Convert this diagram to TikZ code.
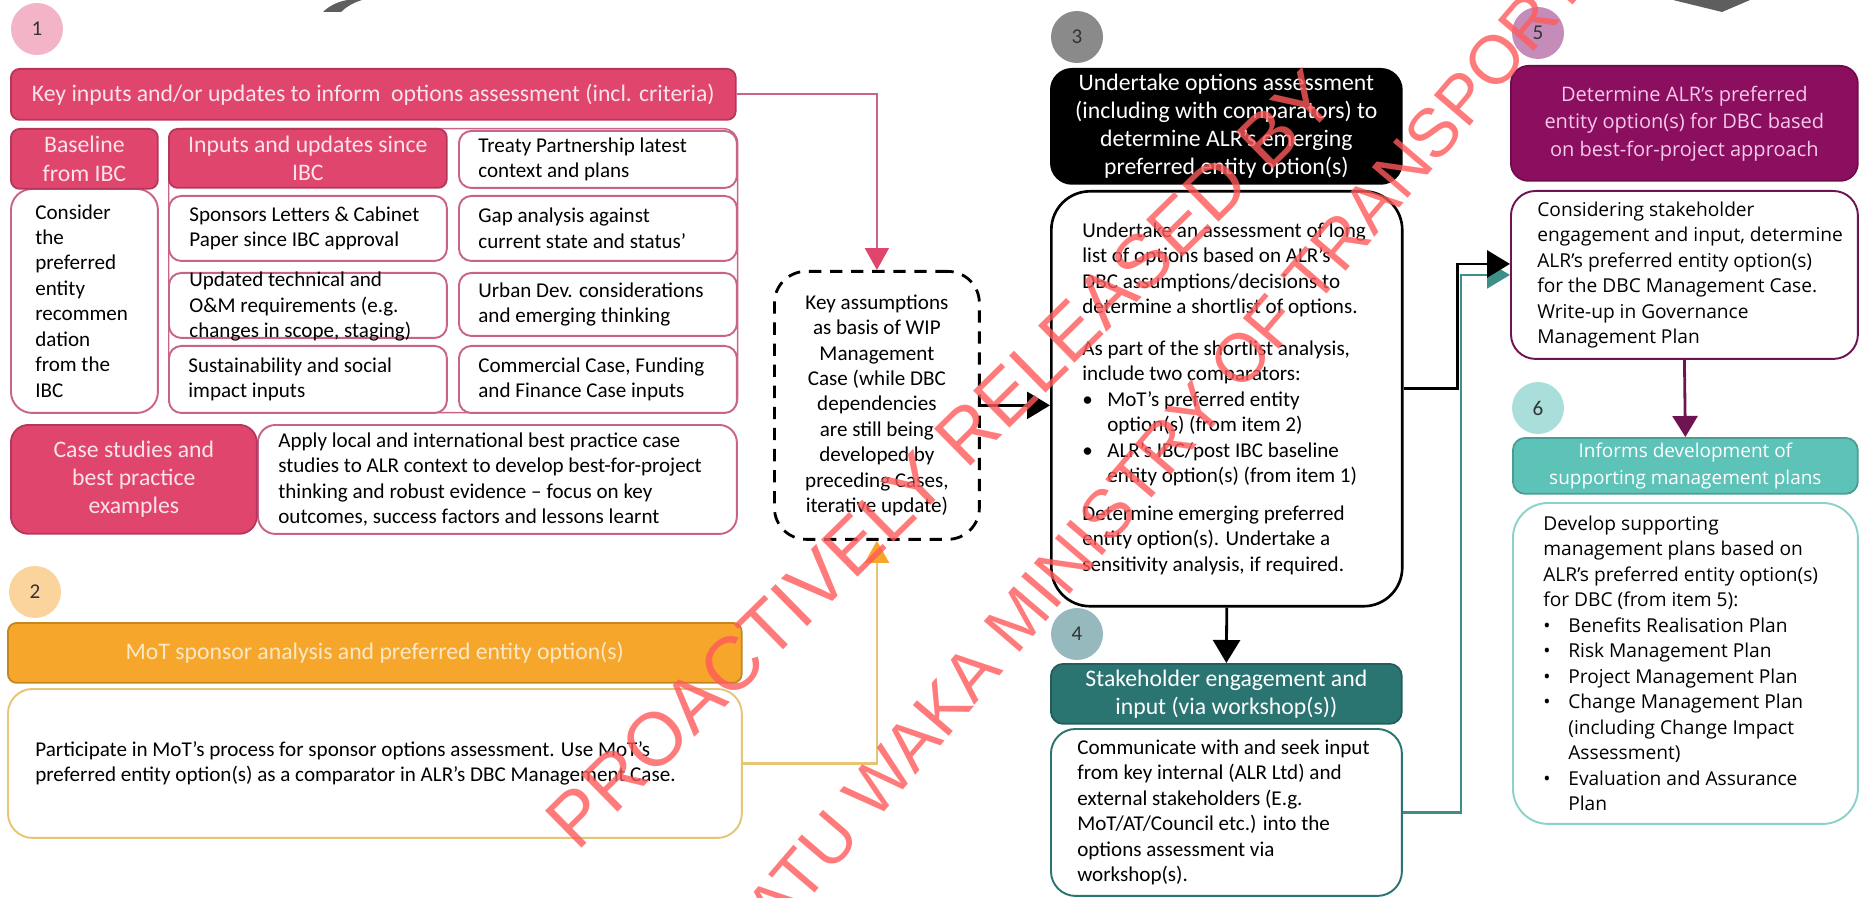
\documentclass[tikz,border=0pt]{standalone}
\usepackage{fontspec}
\setmainfont{Carlito}
\newfontfamily\hdrfamily{Carlito}
\newfontfamily\segfamily{Open Sans}
\newfontfamily\wmfamily{Liberation Sans}
\usetikzlibrary{arrows.meta, positioning}
\definecolor{cpink}{HTML}{E0456E}
\definecolor{cpinkln}{HTML}{C8648A}
\definecolor{cpinklt}{HTML}{F2B4C6}
\definecolor{cpinktx}{HTML}{FBE3EA}
\definecolor{corange}{HTML}{F6A72B}
\definecolor{corangeln}{HTML}{E6C674}
\definecolor{corangelt}{HTML}{FAD49C}
\definecolor{corangetx}{HTML}{FCE8C4}
\definecolor{cgreyc}{HTML}{8A8A8A}
\definecolor{cteal}{HTML}{2A7472}
\definecolor{ctealln}{HTML}{3E8E8A}
\definecolor{ctealc}{HTML}{96B9BE}
\definecolor{cplum}{HTML}{8C0F5F}
\definecolor{cplumln}{HTML}{6E1452}
\definecolor{cplumc}{HTML}{C58CB9}
\definecolor{cplumtx}{HTML}{F4C8EC}
\definecolor{caqua}{HTML}{5DC3B9}
\definecolor{caqualn}{HTML}{8DD2CA}
\definecolor{caquac}{HTML}{A9DEDA}
\definecolor{cwm}{HTML}{FF5A5A}
\definecolor{cgreyd}{HTML}{5E5E5E}
\newcommand\bodyfont{\fontsize{12}{14.5}\selectfont}
\newcommand\hdrfont{\hdrfamily\fontsize{13.5}{16}\selectfont}
\newcommand\segfont{\segfamily\fontsize{10.9}{14.5}\selectfont}
\newcommand\seghdrfont{\segfamily\fontsize{10.8}{15.6}\selectfont}
\newcommand\bul{\makebox[0.5cm][l]{\textbullet}}
\newcommand\bulgap{\hspace*{0.5cm}}
\tikzset{
  every picture/.style={x=0.02cm, y=-0.02cm},
  hdr/.style={draw=#1!80!black, fill=#1, rounded corners=5pt, align=center, inner sep=0pt, line width=1pt, anchor=north west},
  card/.style={draw=#1, fill=white, rounded corners=7pt, inner sep=0pt, line width=1.1pt, anchor=north west},
  txt/.style={align=left, anchor=west, inner sep=0pt, font=\bodyfont},
  num/.style={circle, fill=#1, minimum size=1.04cm, inner sep=0pt, font=\fontsize{12}{14}\selectfont, text=black!80},
  link/.style={-{Triangle[length=0.46cm, width=0.54cm]}, line width=1.6pt},
  wm/.style={font=\wmfamily\fontsize{#1}{#1}\selectfont, text=cwm, opacity=0.8, inner sep=0pt},
}
\begin{document}
\begin{tikzpicture}
  \useasboundingbox (0,0) rectangle (1859,898);
  % ---------------- bits of shapes cut off at the top
  \fill[cgreyd] (323,12) .. controls (330,5) and (340,1) .. (348,0) -- (362,0) .. controls (352,3) and (345,8) .. (341,12) -- cycle;
  \fill[cgreyd] (1673,0) -- (1722,12) -- (1750,0) -- cycle;
  % ---------------- 1: key inputs
  \node[num=cpinklt] (n1) at (37,29) {1};
  \node[hdr=cpink, minimum width=14.5cm, minimum height=1.02cm, text=cpinktx, font=\hdrfont] (keyin) at (10,68) {Key inputs and/or updates to inform \ options assessment (incl. criteria)};
  \node[draw=cpinkln, rounded corners=8pt, line width=0.8pt, minimum width=11.38cm, minimum height=5.68cm, anchor=north west] (inputs) at (168,128) {};
  \node[card=cpinkln, minimum width=2.94cm, minimum height=4.48cm, rounded corners=12pt] (basebody) at (10,188) {};
  \node[txt] (basetxt) at ([xshift=0.5cm]basebody.west) {Consider\\the\\preferred\\entity\\recommen\\dation\\from the\\IBC};
  \node[hdr=cpink, minimum width=2.94cm, minimum height=1.2cm, text=cpinktx, font=\hdrfont] (baseh) at (10,128) {Baseline\\from IBC};
  \node[hdr=cpink, minimum width=5.56cm, minimum height=1.18cm, text=cpinktx, font=\hdrfont] (inputh) at (168,128) {Inputs and updates since\\IBC};
  \node[card=cpinkln, minimum width=5.56cm, minimum height=1.14cm] (treaty) at (458,130) {};
  \node[txt] (treatytxt) at ([xshift=0.4cm]treaty.west) {Treaty Partnership latest\\context and plans};
  \node[card=cpinkln, minimum width=5.56cm, minimum height=1.3cm] (sponsor) at (168,195) {};
  \node[txt] (sponsortxt) at ([xshift=0.42cm]sponsor.west) {Sponsors Letters \& Cabinet\\Paper since IBC approval};
  \node[card=cpinkln, minimum width=5.56cm, minimum height=1.3cm] (gap) at (458,195) {};
  \node[txt] (gaptxt) at ([xshift=0.4cm]gap.west) {Gap analysis against\\current state and status’};
  \node[card=cpinkln, minimum width=5.56cm, minimum height=1.3cm] (updated) at (168,272) {};
  \node[txt] (updatedtxt) at ([xshift=0.42cm, yshift=-0.03cm]updated.west) {Updated technical and\\O\&M requirements (e.g.\\changes in scope, staging)};
  \node[card=cpinkln, minimum width=5.56cm, minimum height=1.26cm] (urban) at (458,272) {};
  \node[txt] (urbantxt) at ([xshift=0.4cm]urban.west) {Urban Dev. considerations\\and emerging thinking};
  \node[card=cpinkln, minimum width=5.56cm, minimum height=1.34cm] (sustain) at (168,345) {};
  \node[txt] (sustaintxt) at ([xshift=0.4cm]sustain.west) {Sustainability and social\\impact inputs};
  \node[card=cpinkln, minimum width=5.56cm, minimum height=1.34cm] (commercial) at (458,345) {};
  \node[txt] (commercialtxt) at ([xshift=0.4cm]commercial.west) {Commercial Case, Funding\\and Finance Case inputs};
  \node[card=cpinkln, minimum width=9.58cm, minimum height=2.18cm, rounded corners=10pt] (apply) at (257,424) {};
  \node[txt] (applytxt) at ([xshift=0.42cm]apply.west) {Apply local and international best practice case\\studies to ALR context to develop best-for-project\\thinking and robust evidence -- focus on key\\outcomes, success factors and lessons learnt};
  \node[hdr=cpink, minimum width=4.92cm, minimum height=2.18cm, text=cpinktx, font=\hdrfont, rounded corners=10pt] (caseh) at (10,424) {Case studies and\\best practice\\examples};
  % ---------------- 2: MoT sponsor analysis
  \node[num=corangelt] (n2) at (35,592) {2};
  \node[hdr=corange, minimum width=14.68cm, minimum height=1.2cm, text=corangetx, font=\hdrfont] (mothdr) at (7,622) {MoT sponsor analysis and preferred entity option(s)};
  \node[card=corangeln, minimum width=14.68cm, minimum height=2.98cm, rounded corners=14pt] (motbody) at (7,688) {};
  \node[txt] (mottxt) at ([xshift=0.56cm]motbody.west) {Participate in MoT’s process for sponsor options assessment. Use MoT’s\\preferred entity option(s) as a comparator in ALR’s DBC Management Case.};
  % ---------------- key assumptions (dashed)
  \node[draw, dash pattern=on 7pt off 5pt, line width=1.6pt, rounded corners=18pt, minimum width=4.1cm, minimum height=5.36cm, anchor=north west, align=center, font=\bodyfont] (assume) at (773,270) {Key assumptions\\as basis of WIP\\Management\\Case (while DBC\\dependencies\\are still being\\developed by\\preceding Cases,\\iterative update)};
  % ---------------- 3: options assessment
  \node[num=cgreyc] (n3) at (1077,37) {3};
  \node[hdr=black, fill=black, minimum width=7.02cm, minimum height=2.3cm, text=white, font=\hdrfont, rounded corners=12pt] (opthdr) at (1050,68) {Undertake options assessment\\(including with comparators) to\\determine ALR’s emerging\\preferred entity option(s)};
  \node[card=black, minimum width=7.02cm, minimum height=8.3cm, rounded corners=22pt, line width=1.5pt] (optbody) at (1050,190) {};
  \node[txt] (opttxt) at ([xshift=0.64cm]optbody.west) {Undertake an assessment of long\\list of options based on ALR’s\\DBC assumptions/decisions to\\determine a shortlist of options.\\[9pt]As part of the shortlist analysis,\\include two comparators:\\\bul MoT’s preferred entity\\\bulgap option(s) (from item 2)\\\bul ALR’s IBC/post IBC baseline\\\bulgap entity option(s) (from item 1)\\[7pt]Determine emerging preferred\\entity option(s). Undertake a\\sensitivity analysis, if required.};
  % ---------------- 4: stakeholder engagement
  \node[num=ctealc] (n4) at (1077,634) {4};
  \node[hdr=cteal, minimum width=7.02cm, minimum height=1.2cm, text=white, font=\hdrfont, rounded corners=7pt] (stakehdr) at (1050,663) {Stakeholder engagement and\\input (via workshop(s))};
  \node[card=cteal, minimum width=7.02cm, minimum height=3.34cm, rounded corners=14pt] (stakebody) at (1050,728) {};
  \node[txt] (staketxt) at ([xshift=0.54cm]stakebody.west) {Communicate with and seek input\\from key internal (ALR Ltd) and\\external stakeholders (E.g.\\MoT/AT/Council etc.) into the\\options assessment via\\workshop(s).};
  % ---------------- 5: preferred entity option
  \node[num=cplumc] (n5) at (1538,33) {5};
  \node[hdr=cplum, minimum width=6.94cm, minimum height=2.3cm, text=cplumtx, font=\segfamily\fontsize{11.4}{15.6}\selectfont, rounded corners=10pt] (prefhdr) at (1510,65) {Determine ALR’s preferred\\entity option(s) for DBC based\\on best-for-project approach};
  \node[card=cplumln, minimum width=6.94cm, minimum height=3.36cm, rounded corners=14pt] (prefbody) at (1510,190) {};
  \node[txt, font=\segfont] (preftxt) at ([xshift=0.54cm]prefbody.west) {Considering stakeholder\\engagement and input, determine\\ALR’s preferred entity option(s)\\for the DBC Management Case.\\Write-up in Governance\\Management Plan};
  % ---------------- 6: supporting plans
  \node[num=caquac] (n6) at (1538,408) {6};
  \node[hdr=caqua, minimum width=6.9cm, minimum height=1.12cm, text=white, font=\seghdrfont, rounded corners=7pt] (planhdr) at (1512,437) {Informs development of\\supporting management plans};
  \node[card=caqualn, minimum width=6.9cm, minimum height=6.42cm, rounded corners=20pt] (planbody) at (1512,502) {};
  \node[txt, font=\segfont] (plantxt) at ([xshift=0.62cm]planbody.west) {Develop supporting\\management plans based on\\ALR’s preferred entity option(s)\\for DBC (from item 5):\\\bul Benefits Realisation Plan\\\bul Risk Management Plan\\\bul Project Management Plan\\\bul Change Management Plan\\\bulgap (including Change Impact\\\bulgap Assessment)\\\bul Evaluation and Assurance\\\bulgap Plan};
  % ---------------- connectors
  \draw[link, cpinkln, line width=1.2pt, -{Triangle[length=0.44cm, width=0.48cm, color=cpink]}] (keyin.east) -| (assume.north);
  \draw[link, corangeln, line width=1.4pt, -{Triangle[length=0.44cm, width=0.48cm, color=corange]}] (motbody.east) -| (assume.south);
  \draw[link] (assume.east) -- (assume.east -| optbody.west);
  \draw[link] (optbody.south) -- (stakehdr.north);
  \draw[link, ctealln, line width=1.3pt] (stakebody.east) -- ++(58,0) |- (prefbody.west);
  \draw[link] ([yshift=0.2cm]optbody.east) -- ++(54,0) |- ([yshift=0.22cm]prefbody.west);
  \draw[link, cplumln, -{Triangle[length=0.42cm, width=0.5cm]}] (prefbody.south) -- (planhdr.north);
  % ---------------- watermark
  \node[wm=43, rotate=44.5] (wmA) at (941,459) {PROACTIVELY RELEASED BY};
  \node[wm=39, rotate=49.5] (wmB) at (1081,545) {TE MANATU WAKA MINISTRY OF TRANSPORT};
\end{tikzpicture}
\end{document}
